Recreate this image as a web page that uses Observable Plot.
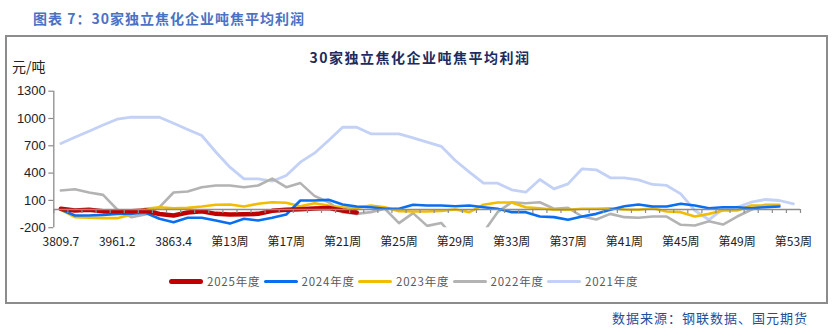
<!DOCTYPE html>
<html><head><meta charset="utf-8">
<script src="https://cdn.jsdelivr.net/npm/d3@7"></script>
<script src="https://cdn.jsdelivr.net/npm/@observablehq/plot@0.6"></script>
<style>
body{margin:0;background:#fff;}
#root{position:relative;width:833px;height:328px;overflow:hidden;background:#fff;font-family:"Noto Sans CJK SC","Noto Sans",sans-serif;}
#title{position:absolute;left:33px;top:8px;font-size:14px;font-weight:bold;color:#4a72c4;letter-spacing:1px;white-space:nowrap;line-height:20px;}
#box{position:absolute;left:5px;top:35px;width:823px;height:269px;box-sizing:border-box;border:2px solid #8c8c8c;}
#ctitle{position:absolute;left:0;width:840px;top:47px;text-align:center;font-size:14px;font-weight:bold;color:#1c2b5c;letter-spacing:1.5px;white-space:nowrap;line-height:20px;}
#unit{position:absolute;left:12px;top:57px;font-size:14px;color:#222;line-height:18px;}
#plot{position:absolute;left:0;top:0;}
#legend{position:absolute;left:169px;top:273px;display:flex;font-size:11.5px;color:#595959;white-space:nowrap;line-height:16px;letter-spacing:0.8px;}
.item{display:flex;align-items:center;width:94.5px;}
.sw{width:34px;margin-right:4px;border-radius:3px;}
#footer{position:absolute;left:612px;top:310px;font-size:13px;color:#1f4e9a;letter-spacing:1px;white-space:nowrap;line-height:15px;}
</style></head>
<body><div id="root">
<div id="title">图表 7：30家独立焦化企业吨焦平均利润</div>
<div id="box"></div>
<div id="ctitle">30家独立焦化企业吨焦平均利润</div>
<div id="unit">元/吨</div>
<div id="plot"></div>
<div id="legend"></div>
<div id="footer">数据来源：钢联数据、国元期货</div>
</div>
<script>
const weeks = d3.range(1, 54);
const xTickWeeks = [1, 5, 9, 13, 17, 21, 25, 29, 33, 37, 41, 45, 49, 53];
const xTickLabels = ["3809.7", "3961.2", "3863.4", "第13周", "第17周", "第21周", "第25周", "第29周", "第33周", "第37周", "第41周", "第45周", "第49周", "第53周"];
const yTicks = [-200, 100, 400, 700, 1000, 1300];

const seriesNames = ["2025年度", "2024年度", "2023年度", "2022年度", "2021年度"];
const seriesColors = ["#c00000", "#0a6ef0", "#f2bd00", "#b3b3b3", "#c2d1f5"];
const seriesWidths = [4.5, 2.6, 2.6, 2.6, 2.8];

const v2025 = [8, -11, -3, -18, -18, -18, -11, -50, -66, -33, -20, -48, -55, -52, -48, -15, -3, 3, 12, 16, -11, -33];
const v2024 = [0, -66, -66, -59, -48, -45, -35, -102, -139, -91, -91, -121, -155, -102, -121, -91, -55, 99, 99, 106, 55, 33, 25, 8, 8, 52, 44, 44, 36, 44, 25, 8, -29, -29, -77, -84, -113, -77, -48, -3, 35, 55, 33, 33, 63, 44, 14, 25, 25, 14, 25, 33];
const v2023 = [-3, -84, -91, -95, -95, -55, 8, 25, 14, 18, 33, 52, 55, 33, 63, 80, 74, 36, 69, 44, 25, 18, 44, 25, -18, -22, -22, -15, 0, -29, 52, 77, 77, 25, 14, -3, -3, 8, 8, 14, 0, -3, 14, -22, -29, -77, -48, -11, -11, 44, 44, 44];
const v2022 = [209, 223, 187, 161, 0, -84, -55, 25, 187, 198, 245, 264, 264, 245, 264, 340, 245, 290, 150, 80, -29, -48, -29, 8, -150, -40, -180, -148, -320, -350, -250, -29, 80, 69, 80, 8, 18, -77, -110, -48, -84, -91, -77, -77, -168, -176, -128, -165, -77, -3, 52, 52];
const v2021 = [725, 793, 860, 928, 992, 1014, 1014, 1014, 948, 880, 813, 632, 465, 337, 337, 311, 374, 520, 619, 758, 904, 904, 832, 832, 832, 788, 740, 694, 538, 410, 289, 289, 216, 190, 330, 227, 282, 447, 436, 348, 348, 326, 275, 264, 172, -11, -113, 8, 25, 80, 110, 99, 63];

const seriesValues = [v2025, v2024, v2023, v2022, v2021];
const tables = seriesValues.map((vals, s) => vals.map((v, i) => ({week: weeks[i], value: v, series: seriesNames[s]})));
const labelMap = new Map(xTickWeeks.map((w, i) => [w, xTickLabels[i]]));
const boundaries = d3.range(0, 54).map(k => k + 0.5);

const lineMarks = [];
for (let s = seriesNames.length - 1; s >= 0; s--) {
  lineMarks.push(Plot.line(tables[s], {
    x: "week", y: "value", stroke: seriesColors[s], strokeWidth: seriesWidths[s],
    clip: true, strokeLinejoin: "round", strokeLinecap: "round"
  }));
}

const chart = Plot.plot({
  width: 833, height: 328,
  marginLeft: 53.3, marginRight: 33, marginTop: 90.7, marginBottom: 100.8,
  style: {background: "transparent", overflow: "visible"},
  x: {type: "linear", domain: [0.5, 53.5], axis: null},
  y: {domain: [-200, 1300], axis: null},
  marks: [
    Plot.ruleX([0.5], {y1: -200, y2: 1300, stroke: "#8c8c8c", strokeWidth: 1.3}),
    Plot.ruleY(yTicks, {x1: 0.5, x2: 0.5, insetLeft: -5, stroke: "#8c8c8c", strokeWidth: 1.2}),
    Plot.axisY(yTicks, {tickSize: 0, tickPadding: 8, fontSize: 13, fill: "#222", tickFormat: d => (d < 0 ? "-" : "") + Math.abs(d), fontFamily: "Liberation Sans, Arial, sans-serif", label: null}),
    Plot.axisX(xTickWeeks, {anchor: "bottom", tickSize: 0, tickPadding: 10, fontSize: 12, fill: "#222", tickFormat: d => labelMap.get(d), fontFamily: "Noto Sans CJK SC, sans-serif", label: null}),
    ...lineMarks,
    Plot.ruleY([0], {x1: 0.5, x2: 53.5, stroke: "#8c8c8c", strokeWidth: 1.3}),
    Plot.ruleX(boundaries, {x: d => d, y1: 0, y2: 0, insetBottom: -4, stroke: "#8c8c8c", strokeWidth: 1.2})
  ]
});
document.getElementById("plot").appendChild(chart);

const legend = document.getElementById("legend");
seriesNames.forEach((name, s) => {
  const item = document.createElement("div");
  item.className = "item";
  const sw = document.createElement("div");
  sw.className = "sw";
  sw.style.height = (s === 0 ? 5 : 3) + "px";
  sw.style.background = seriesColors[s];
  const t = document.createElement("span");
  t.textContent = name;
  item.appendChild(sw); item.appendChild(t);
  legend.appendChild(item);
});
</script>
</body></html>
